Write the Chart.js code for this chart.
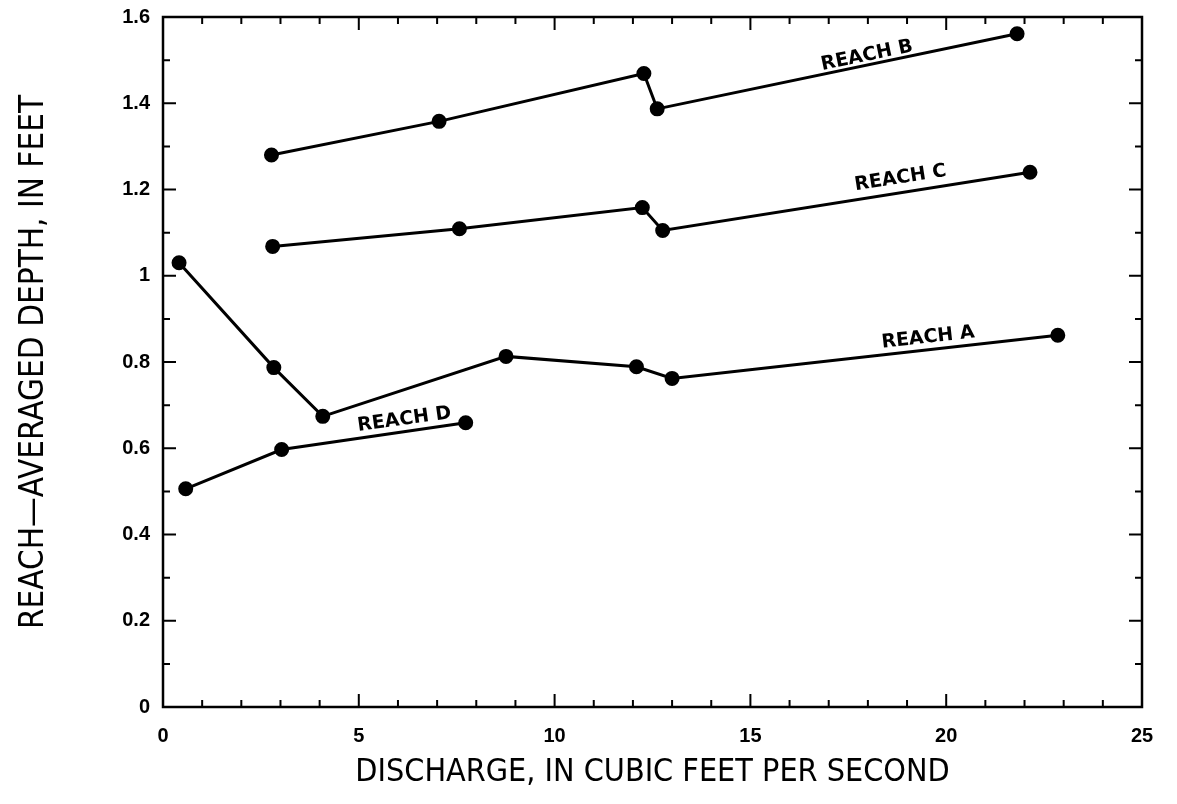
<!DOCTYPE html>
<html lang="en">
<head>
    <meta charset="UTF-8">
    <title>Reach-averaged depth vs discharge</title>
    <style>
        html, body { margin: 0; padding: 0; background: #fff; }
        .chart-container { width: 1177px; height: 804px; }
    </style>
</head>
<body>
    <div class="chart-container">
        <canvas id="depthChart"></canvas>
    </div>

    <script src="https://cdn.jsdelivr.net/npm/chart.js"></script>
    <script>
        // Data
        const reachAx = [0.41, 2.83, 4.08, 8.76, 12.09, 13.0, 22.85];
        const reachAy = [1.03, 0.787, 0.674, 0.813, 0.789, 0.762, 0.862];
        const reachBx = [2.77, 7.05, 12.28, 12.62, 21.81];
        const reachBy = [1.28, 1.358, 1.469, 1.387, 1.561];
        const reachCx = [2.80, 7.57, 12.24, 12.76, 22.14];
        const reachCy = [1.068, 1.109, 1.158, 1.105, 1.240];
        const reachDx = [0.58, 3.03, 7.73];
        const reachDy = [0.506, 0.597, 0.659];

        const xTicks = [0, 5, 10, 15, 20, 25];
        const yTicks = [0, 0.2, 0.4, 0.6, 0.8, 1, 1.2, 1.4, 1.6];

        const reachNames = ['REACH A', 'REACH B', 'REACH C', 'REACH D'];
        // label anchor (data units) and slope angle in degrees
        const labelX = [19.55, 18.0, 18.85, 6.18];
        const labelY = [0.846, 1.50, 1.216, 0.656];
        const labelAngle = [-6.4, -11.8, -9, -8];

        function pts(xs, ys) {
            return xs.map((x, i) => ({ x: x, y: ys[i] }));
        }

        const series = [
            pts(reachAx, reachAy),
            pts(reachBx, reachBy),
            pts(reachCx, reachCy),
            pts(reachDx, reachDy)
        ];

        // Frame, inward ticks and reach labels
        const framePlugin = {
            id: 'frame',
            afterDraw(chart) {
                const { ctx, chartArea: a, scales: { x, y } } = chart;
                ctx.save();
                ctx.strokeStyle = '#000';
                ctx.lineWidth = 2.5;
                ctx.strokeRect(a.left, a.top, a.right - a.left, a.bottom - a.top);

                ctx.lineWidth = 2;
                ctx.beginPath();
                for (let v = 0; v <= 25; v++) {
                    const px = x.getPixelForValue(v);
                    const len = v % 5 === 0 ? 13 : 7;
                    ctx.moveTo(px, a.bottom); ctx.lineTo(px, a.bottom - len);
                    ctx.moveTo(px, a.top); ctx.lineTo(px, a.top + len);
                }
                for (let i = 0; i <= 16; i++) {
                    const py = y.getPixelForValue(i / 10);
                    const len = i % 2 === 0 ? 13 : 7;
                    ctx.moveTo(a.left, py); ctx.lineTo(a.left + len, py);
                    ctx.moveTo(a.right, py); ctx.lineTo(a.right - len, py);
                }
                ctx.stroke();

                ctx.fillStyle = '#000';
                ctx.font = 'bold 19px "DejaVu Sans", sans-serif';
                ctx.textAlign = 'center';
                ctx.textBaseline = 'bottom';
                reachNames.forEach((name, i) => {
                    ctx.save();
                    ctx.translate(x.getPixelForValue(labelX[i]), y.getPixelForValue(labelY[i]));
                    ctx.rotate(labelAngle[i] * Math.PI / 180);
                    ctx.fillText(name, 0, 5);
                    ctx.restore();
                });
                ctx.restore();
            }
        };

        const tickFont = { family: '"Liberation Sans", Arial, sans-serif', size: 20, weight: 'bold' };
        const condensed = '"DejaVu Sans Condensed", "Liberation Sans Narrow", sans-serif';

        const ctx = document.getElementById('depthChart').getContext('2d');
        const depthChart = new Chart(ctx, {
            type: 'scatter',
            data: {
                datasets: series.map((data, i) => ({
                    label: reachNames[i],
                    data: data,
                    showLine: true,
                    borderColor: '#000',
                    backgroundColor: '#000',
                    borderWidth: 3,
                    pointRadius: 6,
                    pointHoverRadius: 6,
                    tension: 0
                }))
            },
            options: {
                responsive: true,
                maintainAspectRatio: false,
                animation: false,
                layout: { padding: { top: 17, right: 35, left: 0, bottom: 0 } },
                plugins: {
                    legend: { display: false },
                    tooltip: { enabled: false }
                },
                scales: {
                    x: {
                        type: 'linear',
                        min: 0,
                        max: 25,
                        afterFit(scale) {
                            scale.height = 97;
                            scale.paddingLeft = 0;
                            scale.paddingRight = 0;
                        },
                        afterBuildTicks(scale) { scale.ticks = xTicks.map(v => ({ value: v })); },
                        grid: { display: false, drawTicks: false },
                        border: { display: false },
                        ticks: { color: '#000', font: tickFont, padding: 17, maxRotation: 0 },
                        title: {
                            display: true,
                            text: 'DISCHARGE, IN CUBIC FEET PER SECOND',
                            color: '#000',
                            font: { family: condensed, size: 32 },
                            padding: { bottom: 12 }
                        }
                    },
                    y: {
                        type: 'linear',
                        min: 0,
                        max: 1.6,
                        afterFit(scale) {
                            scale.width = 163;
                            scale.paddingTop = 0;
                            scale.paddingBottom = 0;
                        },
                        afterBuildTicks(scale) { scale.ticks = yTicks.map(v => ({ value: v })); },
                        grid: { display: false, drawTicks: false },
                        border: { display: false },
                        ticks: {
                            color: '#000',
                            font: tickFont,
                            padding: 13,
                            callback: v => (Math.round(v * 10) / 10).toString()
                        },
                        title: {
                            display: true,
                            text: 'REACH\u2014AVERAGED DEPTH, IN FEET',
                            color: '#000',
                            font: { family: condensed, size: 33 },
                            padding: { top: 15 }
                        }
                    }
                }
            },
            plugins: [framePlugin]
        });
    </script>
</body>
</html>
